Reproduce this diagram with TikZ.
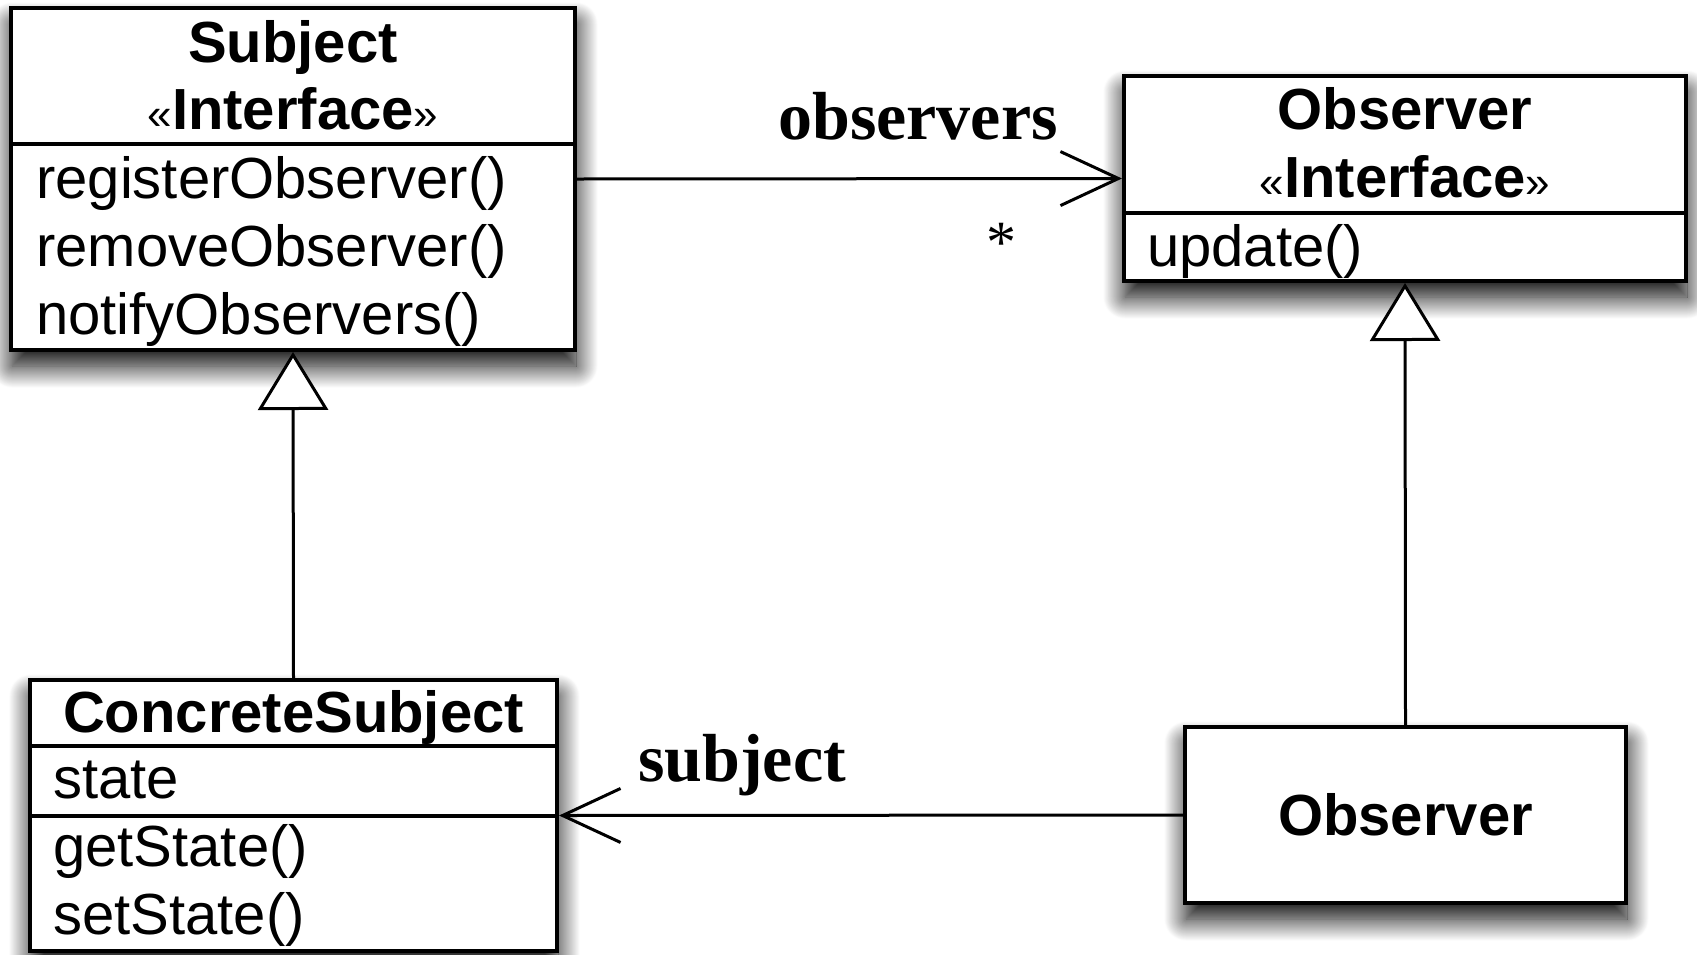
\documentclass[tikz,border=0pt]{standalone}
\usepackage{fontspec}
\setmainfont{Liberation Sans}
\newfontfamily\rolefont{Liberation Serif}
\usetikzlibrary{arrows.meta,shadows.blur}

% small, light guillemets around a stereotype name
\newcommand{\stereo}[1]{{\mdseries\fontsize{44}{50}\selectfont«}#1{\mdseries\fontsize{44}{50}\selectfont»}}

\begin{document}
\begin{tikzpicture}[x=1pt,y=1pt,
  classbox/.style={draw, line width=4pt, fill=white, rectangle, inner sep=0pt,
    blur shadow={shadow xshift=1pt, shadow yshift=-16pt, shadow blur radius=22pt,
      shadow blur steps=30, shadow opacity=100}},
  member/.style={anchor=base west, inner sep=0pt, font=\fontsize{58}{68}\selectfont},
  cname/.style={anchor=base, inner sep=0pt, font=\fontsize{58}{68}\selectfont\bfseries},
  rolelabel/.style={anchor=base, inner sep=0pt, font=\fontsize{68}{80}\selectfont\rolefont\bfseries},
  multlabel/.style={anchor=base, inner sep=0pt, font=\fontsize{60}{70}\selectfont\rolefont},
  divider/.style={line width=4pt},
  link/.style={line width=3pt},
  assoc/.style={link, -{Straight Barb[length=58pt, width=54pt]}},
  realizes/.style={link, -{Triangle[open, length=58pt, width=70pt, fill=white]}},
]
\useasboundingbox (0,0) rectangle (1697,-954);

% --- class boxes ---
\node[classbox, minimum width=564pt, minimum height=342pt] (subj) at (293,-179) {};
\node[classbox, minimum width=562pt, minimum height=205pt] (obsI) at (1405,-178.5) {};
\node[classbox, minimum width=527pt, minimum height=271pt] (conc) at (293.5,-815.5) {};
\node[classbox, minimum width=441pt, minimum height=176pt] (obs) at (1405.5,-815) {};

% --- compartment dividers ---
\draw[divider] (subj.west |- 0,-144) -- (subj.east |- 0,-144);
\draw[divider] (obsI.west |- 0,-213) -- (obsI.east |- 0,-213);
\draw[divider] (conc.west |- 0,-746) -- (conc.east |- 0,-746);
\draw[divider] (conc.west |- 0,-816) -- (conc.east |- 0,-816);

% --- Subject interface ---
\node[cname] (subjName) at (293,-62) {Subject};
\node[cname] (subjStereo) at (293,-129) {\stereo{Interface}};
\node[member] (subjM1) at (36,-198) {registerObserver()};
\node[member] (subjM2) at (36,-266) {removeObserver()};
\node[member] (subjM3) at (36,-334) {notifyObservers()};

% --- Observer interface ---
\node[cname] (obsIName) at (1405,-129) {Observer};
\node[cname] (obsIStereo) at (1405,-197) {\stereo{Interface}};
\node[member] (obsIM1) at (1147,-266) {update()};

% --- ConcreteSubject ---
\node[cname] (concName) at (293.5,-732) {ConcreteSubject};
\node[member] (concA1) at (53,-798) {state};
\node[member] (concM1) at (53,-866) {getState()};
\node[member] (concM2) at (53,-934) {setState()};

% --- concrete Observer ---
\node[cname] (obsName) at (1405.5,-835) {Observer};

% --- relationships ---
\draw[assoc] (subj.east) -- (obsI.west);
\draw[assoc] (obs.west) -- (conc.east);
\draw[realizes] (conc.north) -- (subj.south);
\draw[realizes] (obs.north) -- (obsI.south);

% --- role names and multiplicity ---
\node[rolelabel] (roleObs) at (918,-139) {observers};
\node[multlabel] (mult) at (1001,-262) {*};
\node[rolelabel] (roleSubj) at (742,-781) {subject};
\end{tikzpicture}
\end{document}
